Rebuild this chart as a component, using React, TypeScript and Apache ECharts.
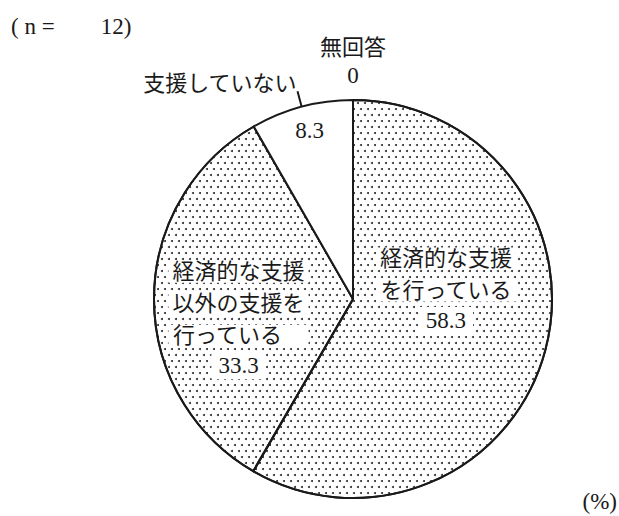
import React, { useEffect, useRef } from 'react';
import * as echarts from 'echarts';

const categories = ['経済的な支援を行っている', '経済的な支援以外の支援を行っている', '支援していない', '無回答'];
const values = [58.3, 33.3, 8.3, 0];
const labelLines = [
  ['経済的な支援', 'を行っている'],
  ['経済的な支援', '以外の支援を', '行っている\u3000'],
  [],
  ['無回答'],
];
const sampleSize = 12;
const unitLabel = '(%)';

const FONT = "'Liberation Serif', 'Noto Sans CJK JP', serif";
const INK = '#1a1a1a';

export default function App() {
  const ref = useRef<HTMLDivElement>(null);
  useEffect(() => {
    document.body.style.margin = '0';
    const chart = echarts.init(ref.current!, null, { renderer: 'svg' });

    const dotDecal = {
      symbol: 'circle',
      symbolSize: 1,
      symbolKeepAspect: true,
      color: '#2a2a2a',
      backgroundColor: '#fff',
      dashArrayX: [[2, 5], [0, 3, 2, 2]],
      dashArrayY: [2, 4],
      rotation: 0,
    };
    const patterned = [true, true, false, false];
    const labelOffsets = [[-6, -37], [-12, 19], [-17, -69], [0, -135]];

    const rich = {
      t: { fontFamily: FONT, fontSize: 22, lineHeight: 32, color: INK, backgroundColor: '#fff', padding: [0, 4] },
      v: { fontFamily: FONT, fontSize: 23, lineHeight: 28, color: INK, backgroundColor: '#fff', padding: [2, 7] },
      p: { fontFamily: FONT, fontSize: 23, lineHeight: 28, color: INK },
      n: { fontFamily: FONT, fontSize: 22, lineHeight: 28, color: INK },
    };

    const mainData = categories.map((name, i) => {
      const lines = labelLines[i];
      let fmt: string;
      if (i === 3) {
        fmt = lines.map((l) => `{n|${l}}`).join('\n') + `\n{p|${values[i]}}`;
      } else if (lines.length === 0) {
        fmt = `{p|${values[i]}}`;
      } else {
        fmt = lines.map((l) => `{t|${l}}`).join('\n') + `\n{v|${values[i]}}`;
      }
      return {
        name,
        value: values[i],
        itemStyle: patterned[i] ? { color: '#fff', decal: dotDecal } : { color: '#fff' },
        label: { show: true, position: 'inside', formatter: fmt, offset: labelOffsets[i], rich },
      };
    });

    const outerData = categories.map((name, i) => ({
      name,
      value: values[i],
      label: i === 2
        ? {
            show: true,
            position: 'outside',
            formatter: '{b}',
            fontFamily: FONT,
            fontSize: 22,
            color: INK,
            distanceToLabelLine: 1,
            offset: [0, -8],
          }
        : { show: false },
      labelLine: i === 2
        ? { show: true, length: 16, length2: 0, smooth: false, lineStyle: { color: INK, width: 2 } }
        : { show: false },
    }));

    chart.setOption({
      animation: false,
      aria: { enabled: false, decal: { show: false } },
      title: [
        {
          text: `( n =\u3000\u3000${sampleSize})`,
          left: 11,
          top: 15,
          padding: 0,
          textStyle: { fontFamily: FONT, fontSize: 23, fontWeight: 'normal', color: INK },
        },
        {
          text: unitLabel,
          right: 2,
          bottom: 3,
          padding: 0,
          textStyle: { fontFamily: FONT, fontSize: 23, fontWeight: 'normal', color: INK },
        },
      ],
      series: [
        {
          type: 'pie',
          center: [353, 299],
          radius: [0, 199],
          startAngle: 90,
          clockwise: true,
          avoidLabelOverlap: false,
          silent: true,
          itemStyle: { borderColor: INK, borderWidth: 2 },
          labelLine: { show: false },
          data: mainData,
        },
        {
          type: 'pie',
          center: [353, 299],
          radius: [0, 199],
          startAngle: 90,
          clockwise: true,
          avoidLabelOverlap: false,
          silent: true,
          itemStyle: { color: 'transparent', borderWidth: 0 },
          data: outerData,
        },
      ],
    });
    return () => chart.dispose();
  }, []);
  return <div ref={ref} style={{ width: 619, height: 516 }} />;
}
